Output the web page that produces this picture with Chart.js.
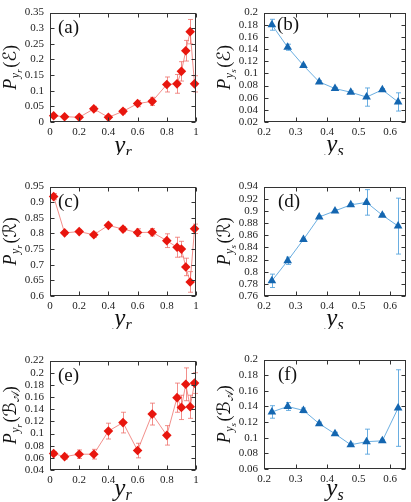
<!DOCTYPE html>
<html>
<head>
<meta charset="utf-8">
<script src="https://cdn.jsdelivr.net/npm/chart.js@4.4.1/dist/chart.umd.min.js"></script>
<style>
  html, body { margin: 0; padding: 0; background: #fff; }
  #wrap { position: relative; width: 411px; height: 502px; overflow: hidden; }
  .panel { position: absolute; }
</style>
</head>
<body>
<div id="wrap"></div>
<script>
// x positions
const yrValues = [0.025, 0.1, 0.2, 0.3, 0.4, 0.5, 0.6, 0.7, 0.8, 0.87, 0.9, 0.93, 0.96, 0.99];
const ysValues = [0.225, 0.275, 0.325, 0.375, 0.425, 0.475, 0.525, 0.575, 0.625];

// (a) P_yr(E)
const pyrE    = [0.020, 0.017, 0.015, 0.042, 0.015, 0.034, 0.059, 0.066, 0.120, 0.122, 0.162, 0.228, 0.289, 0.122];
const pyrEErr = [0.003, 0.003, 0.003, 0.008, 0.003, 0.008, 0.010, 0.013, 0.024, 0.030, 0.031, 0.033, 0.039, 0.026];
// (b) P_ys(E)
const pysE    = [0.180, 0.143, 0.113, 0.086, 0.075, 0.069, 0.061, 0.073, 0.053];
const pysEErr = [0.009, 0.005, 0.002, 0.002, 0.002, 0.002, 0.015, 0.002, 0.015];
// (c) P_yr(R)
const pyrR    = [0.918, 0.802, 0.806, 0.796, 0.826, 0.814, 0.803, 0.804, 0.777, 0.756, 0.750, 0.693, 0.645, 0.815];
const pyrRErr = [0.010, 0.005, 0.006, 0.008, 0.006, 0.008, 0.012, 0.012, 0.022, 0.032, 0.025, 0.028, 0.033, 0.015];
// (d) P_ys(R)
const pysR    = [0.785, 0.818, 0.853, 0.890, 0.900, 0.910, 0.914, 0.893, 0.875];
const pysRErr = [0.011, 0.006, 0.002, 0.002, 0.002, 0.002, 0.021, 0.002, 0.046];
// (e) P_yr(B_A)
const pyrB    = [0.067, 0.062, 0.066, 0.066, 0.104, 0.118, 0.072, 0.132, 0.097, 0.159, 0.143, 0.181, 0.144, 0.183];
const pyrBErr = [0.003, 0.004, 0.007, 0.008, 0.013, 0.017, 0.012, 0.018, 0.016, 0.024, 0.020, 0.027, 0.019, 0.017];
// (f) P_ys(B_A)
const pysB    = [0.133, 0.140, 0.135, 0.118, 0.105, 0.091, 0.095, 0.096, 0.138];
const pysBErr = [0.008, 0.005, 0.003, 0.002, 0.002, 0.002, 0.016, 0.002, 0.049];

// tick labels
const yrTicks = [0, 0.2, 0.4, 0.6, 0.8, 1];
const ysTicks = [0.2, 0.3, 0.4, 0.5, 0.6];
const ticksA = [0, 0.05, 0.1, 0.15, 0.2, 0.25, 0.3, 0.35];
const ticksB = [0.02, 0.04, 0.06, 0.08, 0.1, 0.12, 0.14, 0.16, 0.18, 0.2];
const ticksC = [0.6, 0.65, 0.7, 0.75, 0.8, 0.85, 0.9, 0.95];
const ticksD = [0.76, 0.78, 0.8, 0.82, 0.84, 0.86, 0.88, 0.9, 0.92, 0.94];
const ticksE = [0.04, 0.06, 0.08, 0.1, 0.12, 0.14, 0.16, 0.18, 0.2, 0.22];
const ticksF = [0.06, 0.08, 0.1, 0.12, 0.14, 0.16, 0.18, 0.2];

const SERIF = '"Liberation Serif", "DejaVu Serif", "DejaVu Sans", serif';
const RED = { dot: '#e8160e', line: 'rgba(238,105,100,0.75)' };
const BLUE = { dot: '#1466b0', line: 'rgba(80,160,220,0.85)' };

const panels = [
  { tag: '(a)', x: yrValues, y: pyrE, err: pyrEErr, col: RED,  xt: yrTicks, yt: ticksA, sub: 'r', sym: 'ℰ', left: 0,   top: 0,   lab: [8, 20], xTitle: 31 },
  { tag: '(b)', x: ysValues, y: pysE, err: pysEErr, col: BLUE, xt: ysTicks, yt: ticksB, sub: 's', sym: 'ℰ', left: 205, top: 0,   lab: [13, 17], xTitle: 30 },
  { tag: '(c)', x: yrValues, y: pyrR, err: pyrRErr, col: RED,  xt: yrTicks, yt: ticksC, sub: 'r', sym: 'ℛ', left: 0,   top: 174, lab: [8, 20], xTitle: 30 },
  { tag: '(d)', x: ysValues, y: pysR, err: pysRErr, col: BLUE, xt: ysTicks, yt: ticksD, sub: 's', sym: 'ℛ', left: 205, top: 174, lab: [14, 20], xTitle: 30 },
  { tag: '(e)', x: yrValues, y: pyrB, err: pyrBErr, col: RED,  xt: yrTicks, yt: ticksE, sub: 'r', sym: 'ℬ', left: 0,   top: 348, lab: [8, 20], xTitle: 26 },
  { tag: '(f)', x: ysValues, y: pysB, err: pysBErr, col: BLUE, xt: ysTicks, yt: ticksF, sub: 's', sym: 'ℬ', left: 205, top: 347, lab: [14, 20], xTitle: 27 }
];

function drawRuns(ctx, runs, x0, y0) {
  let x = x0;
  runs.forEach(r => {
    ctx.font = r.style + ' ' + r.size + 'px ' + SERIF;
    ctx.fillText(r.t, x, y0 + r.dy);
    x += ctx.measureText(r.t).width + (r.gap || 0);
  });
}
function runsWidth(ctx, runs) {
  let w = 0;
  runs.forEach(r => {
    ctx.font = r.style + ' ' + r.size + 'px ' + SERIF;
    w += ctx.measureText(r.t).width + (r.gap || 0);
  });
  return w;
}

const panelPlugin = {
  id: 'panelDeco',
  beforeDatasetsDraw(chart) {
    const p = chart.options.plugins.panelDeco.panel;
    const ctx = chart.ctx, xs = chart.scales.x, ys = chart.scales.y;
    ctx.save();
    ctx.strokeStyle = p.col.line;
    ctx.lineWidth = 1;
    p.x.forEach((xv, i) => {
      const px = Math.round(xs.getPixelForValue(xv)) + 0.5;
      const lo = ys.getPixelForValue(p.y[i] - p.err[i]);
      const hi = ys.getPixelForValue(p.y[i] + p.err[i]);
      ctx.beginPath();
      ctx.moveTo(px, lo); ctx.lineTo(px, hi);
      ctx.moveTo(px - 2.5, lo); ctx.lineTo(px + 2.5, lo);
      ctx.moveTo(px - 2.5, hi); ctx.lineTo(px + 2.5, hi);
      ctx.stroke();
    });
    ctx.restore();
  },
  afterDraw(chart) {
    const p = chart.options.plugins.panelDeco.panel;
    const ctx = chart.ctx, a = chart.chartArea, xs = chart.scales.x, ys = chart.scales.y;
    ctx.save();
    // frame and inward ticks on all sides
    ctx.strokeStyle = '#333';
    ctx.lineWidth = 1;
    const L = Math.round(a.left) + 0.5, R = Math.round(a.right) - 0.5;
    const T = Math.round(a.top) + 0.5, B = Math.round(a.bottom) - 0.5;
    ctx.strokeRect(L, T, R - L, B - T);
    ctx.beginPath();
    p.xt.forEach(v => {
      const px = Math.round(xs.getPixelForValue(v)) + 0.5;
      ctx.moveTo(px, B); ctx.lineTo(px, B - 4);
      ctx.moveTo(px, T); ctx.lineTo(px, T + 4);
    });
    p.yt.forEach(v => {
      const py = Math.round(ys.getPixelForValue(v)) + 0.5;
      ctx.moveTo(L, py); ctx.lineTo(L + 4, py);
      ctx.moveTo(R, py); ctx.lineTo(R - 4, py);
    });
    ctx.stroke();

    ctx.fillStyle = '#111';
    ctx.textBaseline = 'alphabetic';
    ctx.textAlign = 'left';
    // panel tag
    ctx.font = '19px ' + SERIF;
    ctx.fillText(p.tag, a.left + p.lab[0], a.top + p.lab[1]);

    // x title: y_r / y_s
    const xr = [
      { t: 'y', size: 25, style: 'italic', dy: 0 },
      { t: p.sub, size: 16, style: 'italic', dy: 4 }
    ];
    const xw = runsWidth(ctx, xr);
    drawRuns(ctx, xr, (a.left + a.right) / 2 - xw / 2, a.bottom + p.xTitle);

    // y title: P_{y_r}(E)
    const yr = [
      { t: 'P', size: 18, style: 'italic', dy: 0, gap: 0.5 },
      { t: 'y', size: 12, style: 'italic', dy: 3 },
      { t: p.sub, size: 9, style: 'italic', dy: 6, gap: 1.5 },
      { t: '(' + p.sym, size: 18, style: 'normal', dy: 0 }
    ];
    if (p.sym === 'ℬ') yr.push({ t: '𝒜', size: 11, style: 'normal', dy: 3 });
    yr.push({ t: ')', size: 18, style: 'normal', dy: 0 });
    const yw = runsWidth(ctx, yr);
    ctx.translate(a.left - 40, (a.top + a.bottom) / 2);
    ctx.rotate(-Math.PI / 2);
    drawRuns(ctx, yr, -yw / 2, 6);
    ctx.restore();
  }
};

const wrap = document.getElementById('wrap');
panels.forEach(p => {
  const box = document.createElement('div');
  box.className = 'panel';
  const w = p.left === 0 ? 205 : 206;
  box.style.left = p.left + 'px';
  box.style.top = p.top + 'px';
  box.style.width = w + 'px';
  box.style.height = '155px';
  const cv = document.createElement('canvas');
  box.appendChild(cv);
  wrap.appendChild(box);

  const yAxisW = p.left === 0 ? 50 : 59;
  const padRight = p.left === 0 ? 9 : 1;

  new Chart(cv, {
    type: 'scatter',
    data: {
      datasets: [{
        data: p.x.map((v, i) => ({ x: v, y: p.y[i] })),
        showLine: true,
        borderColor: p.col.line,
        borderWidth: 1,
        backgroundColor: p.col.dot,
        pointBackgroundColor: p.col.dot,
        pointBorderWidth: 0,
        pointStyle: p.col === RED ? 'rectRot' : 'triangle',
        pointRadius: p.col === RED ? 4.8 : 5,
        clip: false
      }]
    },
    options: {
      responsive: true,
      maintainAspectRatio: false,
      animation: false,
      events: [],
      layout: { padding: { top: 4, right: padRight, left: 0, bottom: 0 } },
      plugins: {
        legend: { display: false },
        tooltip: { enabled: false },
        panelDeco: { panel: p }
      },
      scales: {
        x: {
          type: 'linear',
          min: p.xt[0],
          max: p.col === RED ? 1 : 0.65,
          grid: { display: false, drawTicks: false },
          border: { display: false },
          afterBuildTicks: s => { s.ticks = p.xt.map(v => ({ value: v })); },
          afterFit: s => { s.height = 33; },
          ticks: {
            autoSkip: false,
            maxRotation: 0,
            padding: 4,
            color: '#222',
            font: { family: SERIF, size: 11 },
            callback: v => String(+v.toFixed(4))
          }
        },
        y: {
          type: 'linear',
          min: p.yt[0],
          max: p.yt[p.yt.length - 1],
          grid: { display: false, drawTicks: false },
          border: { display: false },
          afterBuildTicks: s => { s.ticks = p.yt.map(v => ({ value: v })); },
          afterFit: s => { s.width = yAxisW; },
          ticks: {
            autoSkip: false,
            padding: 6,
            color: '#222',
            font: { family: SERIF, size: 11 },
            callback: v => String(+v.toFixed(4))
          }
        }
      }
    },
    plugins: [panelPlugin]
  });
});
</script>
</body>
</html>
